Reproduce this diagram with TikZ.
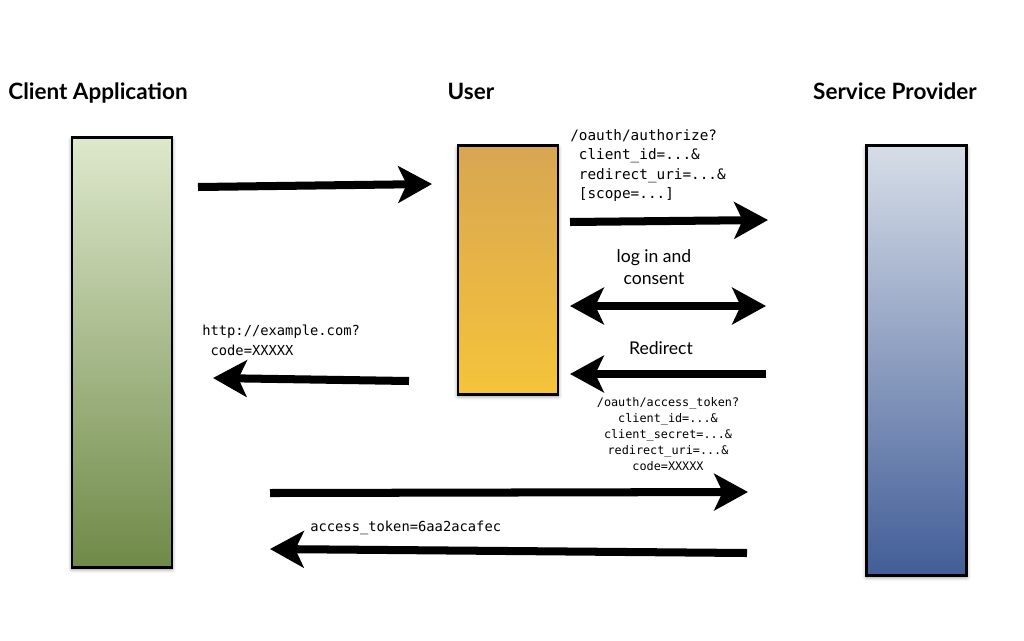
\documentclass[tikz,border=0pt]{standalone}
\usepackage{fontspec}
\setmainfont{Lato}
\setmonofont{DejaVu Sans Mono}
\usetikzlibrary{arrows.meta,shadows.blur}

\definecolor{clienttop}{HTML}{DEE8CC}
\definecolor{clientbot}{HTML}{6F8A48}
\definecolor{usertop}{HTML}{D8A652}
\definecolor{userbot}{HTML}{F5C43A}
\definecolor{sptop}{HTML}{D6DDE7}
\definecolor{spbot}{HTML}{425E98}

\begin{document}
\begin{tikzpicture}[x=0.025cm, y=-0.025cm,
	lane/.style={draw, line width=2.1pt, inner sep=0pt, minimum width=2.5cm, blur shadow={shadow xshift=0pt, shadow yshift=-1.5pt, shadow blur radius=3pt, shadow opacity=45}},
	title/.style={font=\bfseries\fontsize{16}{18}\selectfont, anchor=base},
	say/.style={font=\fontsize{12.5}{15.6}\selectfont, align=center},
	url/.style={font=\ttfamily\fontsize{10.2}{13.9}\selectfont, align=left, inner sep=0pt},
	msg/.style={line width=5.7pt, -{Stealth[length=24pt, width=26pt, inset=6pt]}},
	both/.style={line width=5.7pt, {Stealth[length=24pt, width=26pt, inset=6pt]}-{Stealth[length=24pt, width=26pt, inset=6pt]}}]

	\useasboundingbox (0,0) rectangle (1024,640);

	% the three parties
	\node[lane, minimum height=10.725cm, top color=clienttop, bottom color=clientbot] (client) at (122,352.5) {};
	\node[lane, minimum height=6.2cm, top color=usertop, bottom color=userbot] (user) at (508,270) {};
	\node[lane, minimum height=10.725cm, top color=sptop, bottom color=spbot] (sp) at (916.5,360.5) {};

	\node[title] (tclient) at (98,99) {Client Application};
	\node[title] (tuser) at (471,99) {User};
	\node[title] (tsp) at (895,99) {Service Provider};

	% arrow ends
	\coordinate (c1) at (198,187);
	\coordinate (u1) at (432,184);
	\coordinate (u2) at (570,222);
	\coordinate (s2) at (768,220);
	\coordinate (u3) at (570,306);
	\coordinate (s3) at (766,306);
	\coordinate (s4) at (766,374);
	\coordinate (u4) at (570,374);
	\coordinate (u5) at (409,381);
	\coordinate (c5) at (213,378);
	\coordinate (c6) at (270,493);
	\coordinate (s6) at (748,492);
	\coordinate (s7) at (747,553);
	\coordinate (c7) at (270,549);

	\draw[msg] (c1) -- (u1);
	\draw[msg] (u2) -- (s2);
	\draw[both] (u3) -- (s3);
	\draw[msg] (s4) -- (u4);
	\draw[msg] (u5) -- (c5);
	\draw[msg] (c6) -- (s6);
	\draw[msg] (s7) -- (c7);

	% labels
	\node[url, anchor=north west] (lauth) at (570,129) {/oauth/authorize?\\\phantom{x}client\_id=...\&\\\phantom{x}redirect\_uri=...\&\\\phantom{x}{[}scope=...{]}};
	\node[say] (lconsent) at (654,267) {log in and\\consent};
	\node[say] (lredir) at (661,348) {Redirect};
	\node[url, anchor=north west, font=\ttfamily\fontsize{9.8}{14.2}\selectfont] (lcode) at (202,325) {http://example.com?\\\phantom{x}code=XXXXX};
	\node[url, align=center, anchor=north, font=\ttfamily\fontsize{8.4}{11.4}\selectfont] (ltoken) at (668,397) {/oauth/access\_token?\\client\_id=...\&\\client\_secret=...\&\\redirect\_uri=...\&\\code=XXXXX};
	\node[url, anchor=west, font=\ttfamily\fontsize{9.8}{12}\selectfont] (lgot) at (310,528) {access\_token=6aa2acafec};

\end{tikzpicture}
\end{document}
